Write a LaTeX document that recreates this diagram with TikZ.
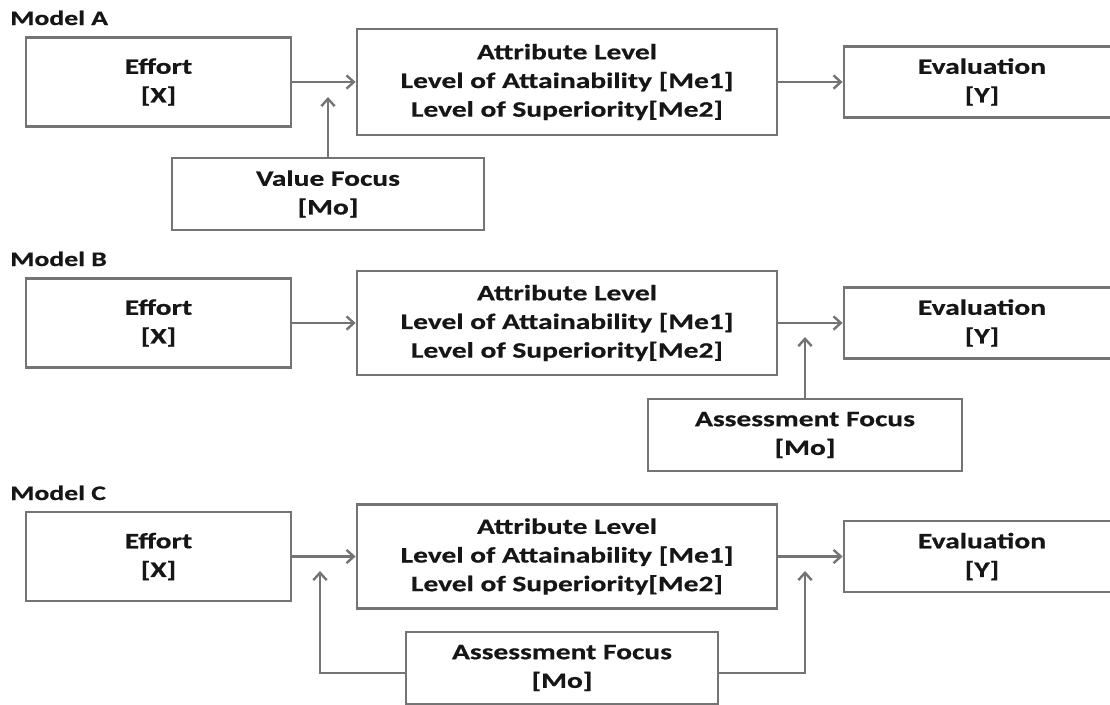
\documentclass[tikz,border=0pt]{standalone}
\usepackage{fontspec}
\setmainfont{Carlito}[FakeStretch=1.34,BoldFeatures={FakeBold=0.6}]
\usetikzlibrary{arrows.meta,calc}
\definecolor{ln}{HTML}{747474}
\definecolor{tx}{HTML}{161616}
\begin{document}
\begin{tikzpicture}[x=0.75pt,y=-0.75pt,
  box/.style={draw=ln,line width=2.1pt,align=center,font=\bfseries\fontsize{16.5}{21.5}\selectfont,text=tx,inner sep=0pt},
  arr/.style={draw=ln,line width=2pt,-{Straight Barb[length=5.5pt,width=10pt,line width=1.8pt]}},
  lbl/.style={font=\bfseries\fontsize{15.5}{18}\selectfont,text=tx,anchor=base west,inner sep=0pt}]
\useasboundingbox (0,0) rectangle (1110,704);
\clip (0,0) rectangle (1110,704);
\fill[white] (0,0) rectangle (1110,704);

% Model A
\node[lbl] (mA) at (10,25) {Model A};
\node[box,minimum width=265*0.75pt,minimum height=89*0.75pt] (effA) at (158.5,82) {Effort\\{[X]}};
\node[box,minimum width=420*0.75pt,minimum height=106*0.75pt] (attrA) at (567,82) {Attribute Level\\Level of Attainability [Me1]\\Level of Superiority[Me2]};
\node[box,minimum width=276*0.75pt,minimum height=71*0.75pt] (evalA) at (982,82) {Evaluation\\{[Y]}};
\node[box,minimum width=312*0.75pt,minimum height=72*0.75pt] (vfA) at (328,194) {Value Focus\\{[Mo]}};
\coordinate (tA) at (328,97);
\draw[arr] (effA.east) -- (attrA.west);
\draw[arr] (attrA.east) -- (evalA.west);
\draw[arr] (vfA.north) -- (tA);

% Model B
\node[lbl] (mB) at (10,266) {Model B};
\node[box,minimum width=265*0.75pt,minimum height=89*0.75pt] (effB) at (158.5,323) {Effort\\{[X]}};
\node[box,minimum width=420*0.75pt,minimum height=104*0.75pt] (attrB) at (567,323) {Attribute Level\\Level of Attainability [Me1]\\Level of Superiority[Me2]};
\node[box,minimum width=276*0.75pt,minimum height=71*0.75pt] (evalB) at (982,323) {Evaluation\\{[Y]}};
\node[box,minimum width=314*0.75pt,minimum height=72*0.75pt] (asB) at (805,435) {Assessment Focus\\{[Mo]}};
\coordinate (tB) at (805,337);
\draw[arr] (effB.east) -- (attrB.west);
\draw[arr] (attrB.east) -- (evalB.west);
\draw[arr] (asB.north) -- (tB);

% Model C
\node[lbl] (mC) at (10,500) {Model C};
\node[box,minimum width=265*0.75pt,minimum height=89*0.75pt] (effC) at (158.5,556.5) {Effort\\{[X]}};
\node[box,minimum width=420*0.75pt,minimum height=104*0.75pt] (attrC) at (567,556.5) {Attribute Level\\Level of Attainability [Me1]\\Level of Superiority[Me2]};
\node[box,minimum width=276*0.75pt,minimum height=71*0.75pt] (evalC) at (982,556.5) {Evaluation\\{[Y]}};
\node[box,minimum width=312*0.75pt,minimum height=72*0.75pt] (asC) at (562,668) {Assessment Focus\\{[Mo]}};
\coordinate (tC1) at (320,571);
\coordinate (tC2) at (805,571);
\draw[arr] (effC.east) -- (attrC.west);
\draw[arr] (attrC.east) -- (evalC.west);
\draw[arr] ($(asC.west)+(0,5)$) -| (tC1);
\draw[arr] ($(asC.east)+(0,5)$) -| (tC2);
\end{tikzpicture}
\end{document}
